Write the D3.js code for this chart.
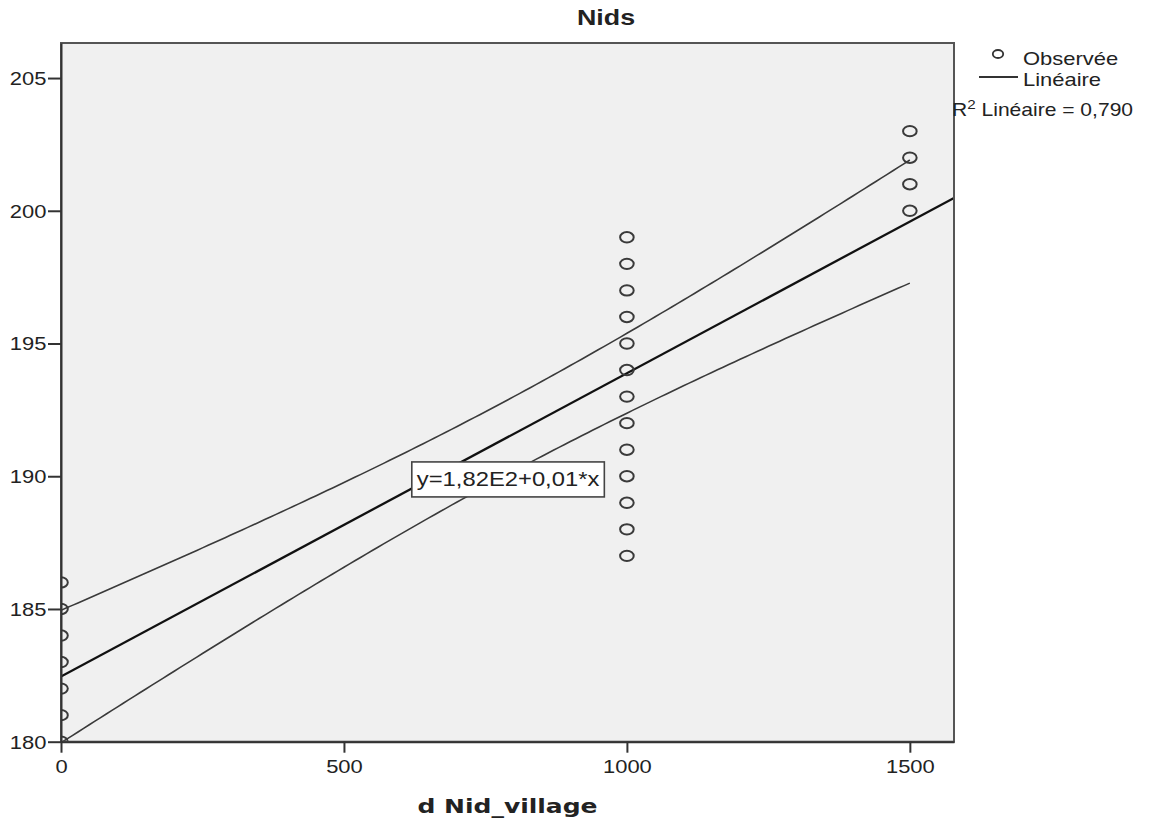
<!DOCTYPE html>
<html>
<head>
<meta charset="utf-8">
<script src="https://d3js.org/d3.v7.min.js"></script>
<style>
  html, body { margin: 0; padding: 0; background: #fff; }
  svg { display: block; }
  text { font-family: "Liberation Sans", Arial, sans-serif; fill: #222; }
</style>
</head>
<body>
<svg id="chart" width="1150" height="820"></svg>
<script>
// ---- Data ----
const title = "Nids";
const xTitle = "d Nid_village";
const obsX = [0, 0, 0, 0, 0, 0, 0,
              1000, 1000, 1000, 1000, 1000, 1000, 1000, 1000, 1000, 1000, 1000, 1000, 1000,
              1500, 1500, 1500, 1500];
const obsY = [180, 181, 182, 183, 184, 185, 186,
              187, 188, 189, 190, 191, 192, 193, 194, 195, 196, 197, 198, 199,
              200, 201, 202, 203];
const xTicks = [0, 500, 1000, 1500];
const yTicks = [180, 185, 190, 195, 200, 205];
const legendLabels = ["Observée", "Linéaire"];
const r2Label = ["R", "2", " Linéaire = 0,790"];
const eqLabel = "y=1,82E2+0,01*x";
const tCrit = 2.0739; // t(0.975, df = 22)

// ---- Layout ----
const X0 = 61, X1 = 954, Y0 = 43, Y1 = 741.7;
const SX = 1.22; // horizontal text stretch of the reference image

const svg = d3.select("#chart");
const x = d3.scaleLinear().domain([0, 1578]).range([X0, X1]);
const y = d3.scaleLinear().domain([180, 206.32]).range([Y1, Y0]);

// Plot background
svg.append("rect").attr("x", X0).attr("y", Y0).attr("width", X1 - X0).attr("height", Y1 - Y0)
  .attr("fill", "#f0f0f0");

svg.append("defs").append("clipPath").attr("id", "plotclip")
  .append("rect").attr("x", X0).attr("y", Y0).attr("width", X1 - X0).attr("height", Y1 - Y0);

// ---- Regression computed from the observations ----
const n = obsX.length;
const mx = d3.mean(obsX), my = d3.mean(obsY);
const sxx = d3.sum(obsX, v => (v - mx) ** 2);
const sxy = d3.sum(obsX.map((v, i) => (v - mx) * (obsY[i] - my)));
const slope = sxy / sxx, icpt = my - slope * mx;
const sse = d3.sum(obsX.map((v, i) => (obsY[i] - (icpt + slope * v)) ** 2));
const se = Math.sqrt(sse / (n - 2));
const fit = v => icpt + slope * v;
const half = v => tCrit * se * Math.sqrt(1 / n + (v - mx) ** 2 / sxx);
const bandX = d3.range(0, 1500.01, 10);

const plot = svg.append("g").attr("clip-path", "url(#plotclip)");
const line = d3.line().x(d => x(d[0])).y(d => y(d[1]));

plot.append("path").datum(bandX.map(v => [v, fit(v) + half(v)]))
  .attr("d", line).attr("fill", "none").attr("stroke", "#3a3a3a").attr("stroke-width", 1.6);
plot.append("path").datum(bandX.map(v => [v, fit(v) - half(v)]))
  .attr("d", line).attr("fill", "none").attr("stroke", "#3a3a3a").attr("stroke-width", 1.6);
plot.append("path").datum([[0, fit(0)], [1578, fit(1578)]])
  .attr("d", line).attr("fill", "none").attr("stroke", "#111").attr("stroke-width", 2.3);

// Observations
plot.selectAll("ellipse.obs").data(obsX.map((v, i) => [v, obsY[i]])).join("ellipse")
  .attr("class", "obs")
  .attr("cx", d => x(d[0])).attr("cy", d => y(d[1]))
  .attr("rx", 6.8).attr("ry", 5.2)
  .attr("fill", "none").attr("stroke", "#3a3a3a").attr("stroke-width", 2);

// Plot frame
svg.append("rect").attr("x", X0).attr("y", Y0).attr("width", X1 - X0).attr("height", Y1 - Y0)
  .attr("fill", "none").attr("stroke", "#555").attr("stroke-width", 2);

// ---- Axes ----
const yAxis = svg.append("g").attr("transform", `translate(${X0},0)`)
  .call(d3.axisLeft(y).tickValues(yTicks).tickSize(13).tickSizeOuter(0).tickFormat(d3.format("d")));
yAxis.select(".domain").attr("stroke", "#333").attr("stroke-width", 2);
yAxis.selectAll(".tick line").attr("stroke", "#333").attr("stroke-width", 2);
yAxis.selectAll(".tick text")
  .attr("x", -12).attr("dy", "0.36em")
  .attr("transform", `scale(${SX},1)`)
  .style("font-family", "Liberation Sans, Arial, sans-serif").style("font-size", "18px").attr("fill", "#333");

const xAxis = svg.append("g").attr("transform", `translate(0,${Y1})`)
  .call(d3.axisBottom(x).tickValues(xTicks).tickSize(11).tickSizeOuter(0).tickFormat(d3.format("d")));
xAxis.select(".domain").attr("stroke", "#333").attr("stroke-width", 2);
xAxis.selectAll(".tick line").attr("stroke", "#333").attr("stroke-width", 2);
xAxis.selectAll(".tick text")
  .attr("y", 18.5).attr("dy", "0.71em")
  .attr("transform", `scale(${SX},1)`)
  .style("font-family", "Liberation Sans, Arial, sans-serif").style("font-size", "18px").attr("fill", "#333");

// ---- Titles ----
svg.append("text").attr("transform", `translate(606,25) scale(${SX},1)`)
  .attr("text-anchor", "middle").style("font-size", "22px").style("font-weight", "bold")
  .attr("fill", "#111").text(title);

svg.append("text").attr("transform", `translate(${(X0 + X1) / 2},813) scale(1.25,1)`)
  .attr("text-anchor", "middle").style("font-family", "DejaVu Sans, Verdana, sans-serif")
  .style("font-size", "20px").style("font-weight", "bold").attr("fill", "#111").text(xTitle);

// ---- Equation label ----
const eqCx = x(790), eqCy = y(189.88);
const eqG = svg.append("g");
const eqT = eqG.append("text").attr("transform", `translate(${eqCx},${eqCy + 7}) scale(${SX},1)`)
  .attr("text-anchor", "middle").style("font-size", "19.5px").attr("fill", "#333").text(eqLabel);
const eqW = eqT.node().getComputedTextLength() * SX;
eqG.insert("rect", "text")
  .attr("x", eqCx - eqW / 2 - 5).attr("y", eqCy - 17.5)
  .attr("width", eqW + 10).attr("height", 35)
  .attr("fill", "#fff").attr("stroke", "#444").attr("stroke-width", 1.6);

// ---- Legend ----
const lg = svg.append("g");
lg.append("ellipse").attr("cx", 998).attr("cy", 54).attr("rx", 5.2).attr("ry", 4)
  .attr("fill", "none").attr("stroke", "#333").attr("stroke-width", 1.8);
lg.append("line").attr("x1", 979).attr("x2", 1018).attr("y1", 77).attr("y2", 77)
  .attr("stroke", "#333").attr("stroke-width", 2);
lg.selectAll("text.lab").data(legendLabels).join("text").attr("class", "lab")
  .attr("transform", (d, i) => `translate(1023,${65 + i * 21}) scale(${SX},1)`)
  .style("font-size", "18px").attr("fill", "#333").text(d => d);
const r2 = lg.append("text").attr("transform", `translate(952,116) scale(1.17,1)`)
  .style("font-size", "18px").attr("fill", "#333");
r2.append("tspan").text(r2Label[0]);
r2.append("tspan").attr("dy", -7).style("font-size", "13px").text(r2Label[1]);
r2.append("tspan").attr("dy", 7).text(r2Label[2]);
</script>
</body>
</html>
